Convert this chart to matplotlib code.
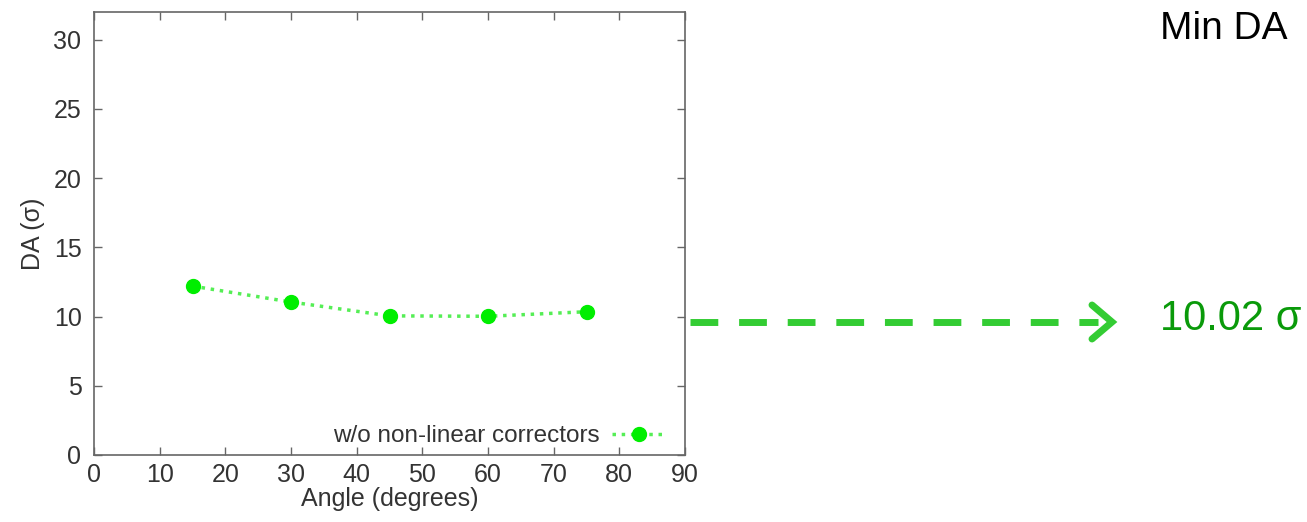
import matplotlib.pyplot as plt
from matplotlib.lines import Line2D

plt.rcParams['font.family'] = ['Liberation Sans', 'DejaVu Sans']

# DA scan vs. angle, without non-linear correctors
angles = [15, 30, 45, 60, 75]
da_sigma = [12.2, 11.05, 10.05, 10.02, 10.35]
series_label = "w/o non-linear correctors"
min_da = min(da_sigma)

W, H = 1307, 522
fig = plt.figure(figsize=(W / 100, H / 100), dpi=100)
ax = fig.add_axes([94 / W, 1 - 455 / H, (685 - 94) / W, (455 - 12) / H])

ax.plot(angles, da_sigma, linestyle=':', color='#55ee55', lw=2.5,
        marker='o', markersize=10, markerfacecolor='#00ee00',
        markeredgecolor='#00ee00', label=series_label)

ax.set_xlim(0, 90)
ax.set_ylim(0, 32)
ax.set_xticks(range(0, 91, 10))
ax.set_yticks(range(0, 31, 5))
ax.tick_params(direction='in', top=True, right=True, length=6, width=1,
               color='#666666', labelsize=18, labelcolor='#333333')
ax.tick_params(axis='y', pad=9)
ax.tick_params(axis='x', pad=6)
for s in ax.spines.values():
    s.set_color('#666666')
    s.set_linewidth(1.2)

ax.set_xlabel('Angle (degrees)', fontsize=18, color='#333333', labelpad=0)
ax.set_ylabel('DA (σ)', fontsize=18, color='#333333', labelpad=6)

leg = ax.legend(loc='lower right', bbox_to_anchor=(0.985, -0.005),
                markerfirst=False, frameon=False,
                fontsize=17.5, handlelength=2.25, handletextpad=0.5,
                borderaxespad=0.0, borderpad=0.4, markerscale=1.0,
                labelcolor='#333333')

# arrow pointing from the plot to the minimum value
def px(x, y):
    return x / W, 1 - y / H

x0, y0 = px(690, 322)
x1, _ = px(1098, 322)
fig.add_artist(Line2D([x0, x1], [y0, y0], transform=fig.transFigure,
                      color='#33cc33', lw=5, linestyle=(0, (4, 3))))
cx = [px(1092, 305), px(1112, 322), px(1092, 339)]
fig.add_artist(Line2D([p[0] for p in cx], [p[1] for p in cx],
                      transform=fig.transFigure, color='#33cc33', lw=5,
                      solid_capstyle='round', solid_joinstyle='miter'))

fig.text(*px(1160, 319), f'{min_da:.2f} σ', fontsize=30, color='#0a9a0a',
         va='center', ha='left')
fig.text(*px(1160, 29), 'Min DA', fontsize=28, color='black',
         va='center', ha='left')

fig.savefig('out.png', dpi=100)
